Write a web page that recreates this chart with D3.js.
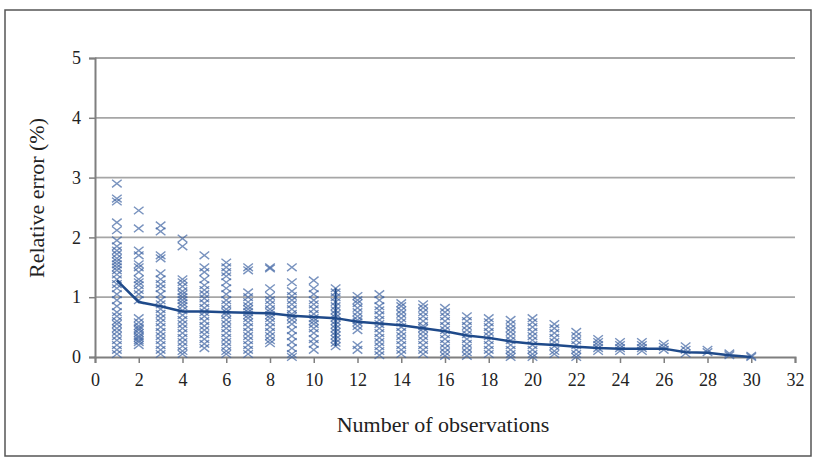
<html lang="en">
<head>
  <meta http-equiv="Content-Type" content="text/html; charset=UTF-8">
  <title>Relative error</title>
  <script type="text/javascript" src="https://cdn.jsdelivr.net/npm/d3@7"></script>
  <style type="text/css">
    body { margin: 0; background: #fff; }
    svg text { font-family: "Liberation Serif", "Times New Roman", Times, "DejaVu Serif", serif !important; fill: #222; }
  </style>
</head>
<body>
  <script type="text/javascript">
    // observations per number of observations (x = 1..30)
    var xValues = d3.range(1, 31);
    var errCols = [
      [2.9, 2.65, 2.6, 2.25, 2.12, 1.95, 1.85, 1.78, 1.72, 1.65, 1.6, 1.55, 1.5, 1.45, 1.38, 1.3, 1.22, 1.15, 1.05, 0.95, 0.85, 0.75, 0.68, 0.6, 0.55, 0.48, 0.42, 0.35, 0.28, 0.2, 0.12, 0.05],
      [2.45, 2.15, 1.78, 1.7, 1.55, 1.5, 1.42, 1.3, 1.25, 1.2, 1.12, 1.05, 0.95, 0.65, 0.58, 0.52, 0.48, 0.45, 0.4, 0.35, 0.32, 0.28, 0.25, 0.2],
      [2.2, 2.1, 1.7, 1.65, 1.4, 1.3, 1.22, 1.15, 1.05, 0.95, 0.88, 0.8, 0.72, 0.65, 0.58, 0.5, 0.42, 0.35, 0.28, 0.2, 0.12, 0.05],
      [1.98, 1.85, 1.3, 1.25, 1.18, 1.1, 1.05, 1.0, 0.95, 0.9, 0.85, 0.78, 0.7, 0.62, 0.55, 0.48, 0.4, 0.32, 0.25, 0.18, 0.1, 0.05],
      [1.7, 1.5, 1.42, 1.3, 1.2, 1.12, 1.05, 0.98, 0.9, 0.82, 0.75, 0.68, 0.6, 0.52, 0.45, 0.38, 0.3, 0.22, 0.15],
      [1.58, 1.5, 1.42, 1.35, 1.25, 1.15, 1.05, 0.95, 0.88, 0.8, 0.75, 0.7, 0.62, 0.55, 0.48, 0.4, 0.32, 0.25, 0.18, 0.1, 0.05],
      [1.5, 1.45, 1.08, 1.0, 0.92, 0.85, 0.8, 0.75, 0.7, 0.65, 0.58, 0.5, 0.42, 0.35, 0.28, 0.2, 0.12, 0.05],
      [1.5, 1.48, 1.15, 1.02, 0.95, 0.88, 0.8, 0.75, 0.7, 0.65, 0.58, 0.5, 0.42, 0.35, 0.28, 0.23],
      [1.5, 1.25, 1.1, 1.02, 0.95, 0.88, 0.8, 0.72, 0.68, 0.62, 0.55, 0.45, 0.35, 0.25, 0.15, 0.05, 0.0],
      [1.28, 1.15, 1.05, 0.95, 0.88, 0.8, 0.72, 0.65, 0.6, 0.55, 0.48, 0.4, 0.3, 0.22, 0.12],
      [1.15, 1.08, 1.0, 0.92, 0.85, 0.78, 0.72, 0.66, 0.6, 0.54, 0.48, 0.42, 0.36, 0.3, 0.24, 0.18],
      [1.02, 0.95, 0.9, 0.82, 0.75, 0.68, 0.62, 0.58, 0.52, 0.45, 0.2, 0.12],
      [1.05, 0.95, 0.85, 0.78, 0.7, 0.62, 0.55, 0.48, 0.4, 0.32, 0.25, 0.18, 0.1, 0.03],
      [0.9, 0.85, 0.78, 0.72, 0.65, 0.58, 0.5, 0.42, 0.35, 0.28, 0.2, 0.12, 0.05],
      [0.88, 0.82, 0.75, 0.68, 0.6, 0.52, 0.48, 0.42, 0.35, 0.28, 0.2, 0.12, 0.05],
      [0.82, 0.75, 0.68, 0.6, 0.52, 0.45, 0.38, 0.3, 0.22, 0.15, 0.08, 0.02],
      [0.68, 0.6, 0.52, 0.45, 0.38, 0.3, 0.22, 0.15, 0.08, 0.02],
      [0.65, 0.58, 0.5, 0.42, 0.35, 0.28, 0.2, 0.12, 0.05],
      [0.62, 0.55, 0.48, 0.42, 0.35, 0.28, 0.2, 0.12, 0.05, 0.0],
      [0.65, 0.58, 0.5, 0.42, 0.35, 0.28, 0.2, 0.12, 0.05, 0.0],
      [0.55, 0.48, 0.4, 0.32, 0.25, 0.18, 0.1, 0.05],
      [0.42, 0.35, 0.28, 0.2, 0.12, 0.05, 0.0],
      [0.3, 0.25, 0.2, 0.15, 0.1],
      [0.25, 0.2, 0.15, 0.1],
      [0.25, 0.2, 0.15, 0.1],
      [0.22, 0.17, 0.12],
      [0.18, 0.12, 0.06],
      [0.12, 0.08],
      [0.06, 0.03],
      [0.02, 0.0]
    ];
    // mean relative error line
    var meanErr = [1.28, 0.92, 0.85, 0.76, 0.76, 0.75, 0.74, 0.73, 0.69, 0.67, 0.65, 0.59, 0.56, 0.53, 0.48, 0.43, 0.36, 0.32, 0.26, 0.22, 0.2, 0.17, 0.15, 0.14, 0.14, 0.14, 0.08, 0.07, 0.03, 0.0];
    // dense spread drawn as a line at x = 11
    var spreadX = [11];
    var spreadLow = [0.18];
    var spreadHigh = [1.15];
    var xTicks = d3.range(0, 33, 2);
    var yTicks = [0, 1, 2, 3, 4, 5];

    var W = 816, H = 457;
    var serif = '"Liberation Serif", "Times New Roman", Times, "DejaVu Serif", serif';
    var svg = d3.select("body").append("svg").attr("width", W).attr("height", H);

    // outer frame
    svg.append("rect").attr("x", 5).attr("y", 10).attr("width", 806).attr("height", 446)
      .attr("fill", "none").attr("stroke", "#555").attr("stroke-width", 1.5);

    var x = d3.scaleLinear().domain([0, 32]).range([95, 795]);
    var y = d3.scaleLinear().domain([0, 5]).range([357, 58]);

    // gridlines
    svg.selectAll(".grid").data(yTicks.slice(1)).enter().append("line")
      .attr("x1", x(0)).attr("x2", x(32))
      .attr("y1", function(d) { return y(d); })
      .attr("y2", function(d) { return y(d); })
      .attr("stroke", "#a6a6a6").attr("stroke-width", 1.8);

    // axes
    var yAxis = svg.append("g").attr("transform", "translate(" + x(0) + ",0)")
      .call(d3.axisLeft(y).tickValues(yTicks).tickSize(6).tickPadding(8).tickFormat(d3.format("d")));
    var xAxis = svg.append("g").attr("transform", "translate(0," + y(0) + ")")
      .call(d3.axisBottom(x).tickValues(xTicks).tickSize(6).tickPadding(10).tickFormat(d3.format("d")));
    [xAxis, yAxis].forEach(function(g) {
      g.attr("font-family", serif).attr("font-size", 18);
      g.select(".domain").attr("stroke", "#7f7f7f").attr("stroke-width", 2);
      g.selectAll(".tick line").attr("stroke", "#7f7f7f").attr("stroke-width", 1.5);
      g.selectAll(".tick text").attr("fill", "#222");
    });

    // scatter crosses
    var pts = [];
    errCols.forEach(function(col, i) {
      col.forEach(function(v) { pts.push({ x: xValues[i], y: v }); });
    });
    var hw = 4.8, hh = 3.8;
    svg.append("g").selectAll("path").data(pts).enter().append("path")
      .attr("d", function(d) {
        var cx = x(d.x), cy = y(d.y);
        return "M" + (cx - hw) + "," + (cy - hh) + "L" + (cx + hw) + "," + (cy + hh) +
          "M" + (cx - hw) + "," + (cy + hh) + "L" + (cx + hw) + "," + (cy - hh);
      })
      .attr("fill", "none").attr("stroke", "#3f64a3").attr("stroke-width", 1.4).attr("stroke-opacity", 0.7);

    // spread line
    svg.selectAll(".spread").data(spreadX).enter().append("line")
      .attr("x1", function(d) { return x(d); })
      .attr("x2", function(d) { return x(d); })
      .attr("y1", function(d, i) { return y(spreadLow[i]); })
      .attr("y2", function(d, i) { return y(spreadHigh[i]); })
      .attr("stroke", "#1f4a8a").attr("stroke-width", 2);

    // mean line
    var line = d3.line()
      .x(function(d, i) { return x(xValues[i]); })
      .y(function(d) { return y(d); });
    svg.append("path").attr("d", line(meanErr))
      .attr("fill", "none").attr("stroke", "#1f4a8a").attr("stroke-width", 2.5);

    // titles
    svg.append("text").attr("x", 443).attr("y", 432).attr("text-anchor", "middle")
      .attr("font-family", serif).attr("font-size", 22).text("Number of observations");
    svg.append("text").attr("transform", "translate(44,198) rotate(-90)")
      .attr("text-anchor", "middle").attr("font-family", serif).attr("font-size", 22).text("Relative error (%)");
  </script>
</body>
</html>
